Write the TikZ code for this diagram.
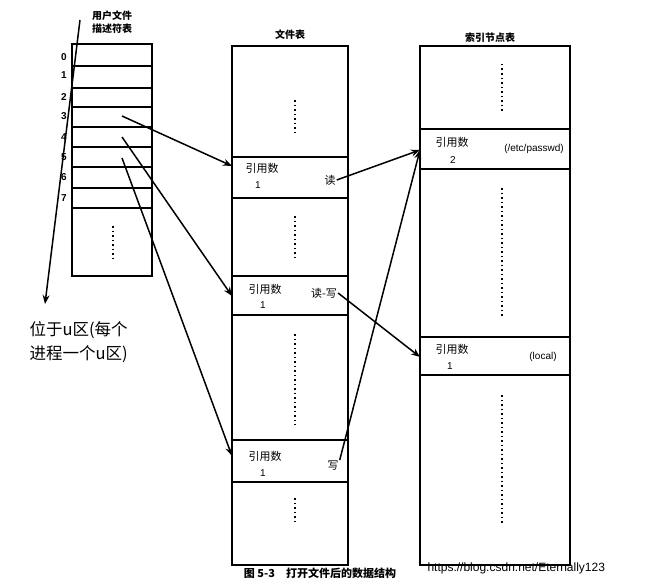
\documentclass[tikz,border=0pt]{standalone}
\usepackage{fontspec}
\setmainfont{Liberation Sans}
\newfontfamily\cjk{Noto Sans CJK SC}
\usetikzlibrary{arrows.meta}
\tikzset{
    lbl/.style={font=\cjk\fontsize{11}{13}\selectfont, inner sep=1pt},
    num/.style={font=\fontsize{10}{12}\selectfont, inner sep=1pt},
    link/.style={line width=1.5pt, -{Stealth[length=9pt,width=7pt]}},
    dots/.style={line width=1.8pt, dash pattern=on 1.5pt off 3pt},
    rowline/.style={line width=1.8pt},
}
\begin{document}
\begin{tikzpicture}[x=1pt, y=-1pt]
    \useasboundingbox (0,0) rectangle (661,586);

    % user file descriptor table
    \node[lbl, align=center, font=\cjk\bfseries\fontsize{10}{13}\selectfont] (utitle) at (112,22) {用户文件\\描述符表};
    \draw[line width=1.5pt] (72,44) rectangle (152,276);
    \foreach \y in {66,88,107,127,147,167,188,208}
        \draw[rowline] (72,\y) -- (152,\y);
    \foreach \i/\y in {0/57,1/75,2/97,3/116,4/137,5/157,6/177,7/198}
        \node[num, font=\bfseries\fontsize{10}{12}\selectfont] (fd\i) at (64,\y) {\i};
    \draw[dots] (113,226) -- (113,258);
    \coordinate (utop) at (80,20);
    \coordinate (ubot) at (45,304);
    \draw[link] (utop) -- (ubot);
    \node[font=\cjk\fontsize{16.5}{24}\selectfont, align=left, anchor=west] (uarea) at (26,342) {位于u区(每个\\进程一个u区)};

    % file table
    \node[lbl, font=\cjk\bfseries\fontsize{10}{12}\selectfont] (ftitle) at (290,35) {文件表};
    \draw[line width=1.2pt] (232,46) rectangle (348,565);
    \foreach \y in {157,198,276,315,440,482}
        \draw[rowline] (232,\y) -- (348,\y);
    \draw[dots] (295,100) -- (295,136);
    \draw[dots] (295,216) -- (295,258);
    \draw[dots] (295,334) -- (295,425);
    \draw[dots] (295,498) -- (295,525);
    \node[lbl] (fc1) at (262,168) {引用数};
    \node[num] (fn1) at (258,185) {1};
    \node[lbl] (fm1) at (330,180) {读};
    \node[lbl] (fc2) at (265,289) {引用数};
    \node[num] (fn2) at (263,305) {1};
    \node[lbl] (fm2) at (324,293) {读-写};
    \node[lbl] (fc3) at (265,456) {引用数};
    \node[num] (fn3) at (263,473) {1};
    \node[lbl] (fm3) at (333,466) {写};

    % inode table
    \node[lbl, font=\cjk\bfseries\fontsize{10}{12}\selectfont] (ititle) at (490,38) {索引节点表};
    \draw[line width=1.2pt] (420,46) rectangle (570,565);
    \foreach \y in {129,169,337,375}
        \draw[rowline] (420,\y) -- (570,\y);
    \draw[dots] (502,64) -- (502,112);
    \draw[dots] (502,188) -- (502,316);
    \draw[dots] (502,395) -- (502,525);
    \node[lbl] (ic1) at (452,142) {引用数};
    \node[num] (in1) at (453,160) {2};
    \node[num] (ip1) at (534,149) {(/etc/passwd)};
    \node[lbl, font=\fontsize{10}{12}\selectfont] (ip2) at (543,357) {(local)};
    \node[lbl] (ic2) at (452,349) {引用数};
    \node[num] (in2) at (450,366) {1};

    % pointers
    \coordinate (fe1) at (232,166);
    \coordinate (fe2) at (232,296);
    \coordinate (fe3) at (232,456);
    \coordinate (ie1) at (420,150);
    \coordinate (ie2) at (420,357);
    \coordinate (d3) at (122,116);
    \coordinate (d4) at (122,137);
    \coordinate (d5) at (122,158);
    \draw[link] (d3) -- (fe1);
    \draw[link] (d4) -- (fe2);
    \draw[link] (d5) -- (fe3);
    \draw[link] (fm1.east) -- (ie1);
    \draw[link] (fm2.east) -- (ie2);
    \draw[link] (fm3.north east) -- (ie1);

    % caption
    \node[font=\cjk\bfseries\fontsize{11}{12}\selectfont] (cap) at (320,573) {图 5-3\quad 打开文件后的数据结构};
    \node[font=\fontsize{12}{14}\selectfont, anchor=west] (url) at (424,568) {https://blog.csdn.net/Eternally123};
\end{tikzpicture}
\end{document}
